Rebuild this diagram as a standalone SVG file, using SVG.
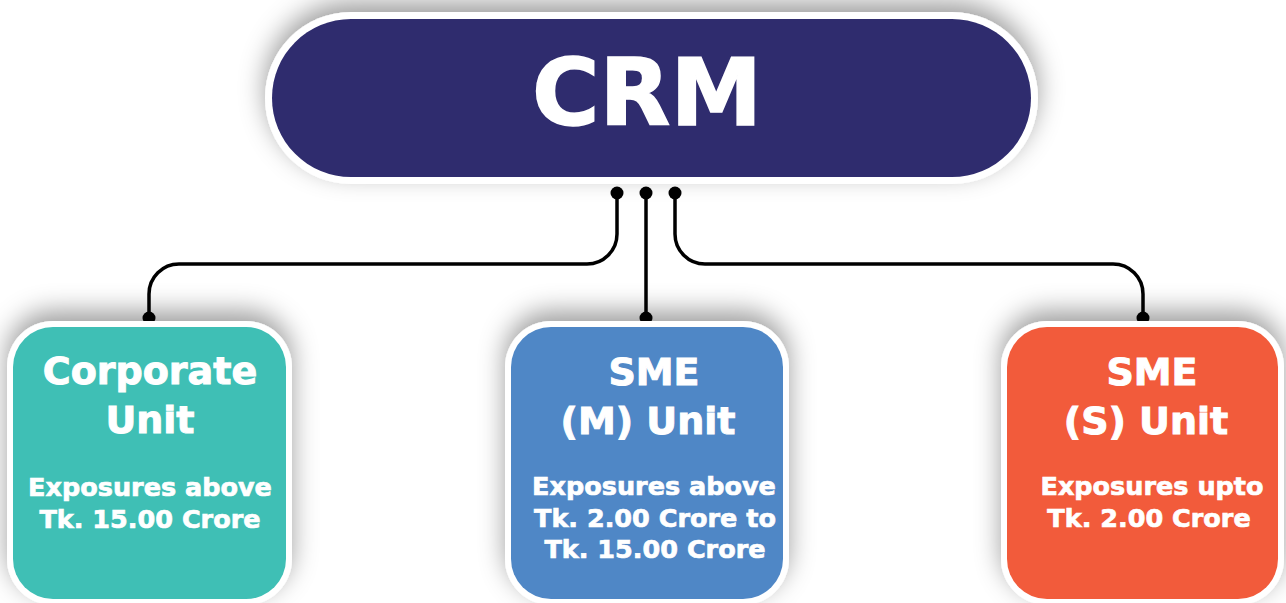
<svg xmlns="http://www.w3.org/2000/svg" width="1286" height="603" viewBox="0 0 1286 603">
  <defs>
    <!-- soft grey halo, lifted slightly upward -->
    <filter id="halo" x="-15%" y="-40%" width="130%" height="180%">
      <feGaussianBlur in="SourceAlpha" stdDeviation="13" result="b"/>
      <feOffset in="b" dx="0" dy="-10" result="o"/>
      <feFlood flood-color="#000" flood-opacity="0.38"/>
      <feComposite in2="o" operator="in" result="s"/>
      <feMerge>
        <feMergeNode in="s"/>
        <feMergeNode in="SourceGraphic"/>
      </feMerge>
    </filter>
    <style>
      .rim { fill: #ffffff; }
      .head { font-family: "DejaVu Sans", Verdana, sans-serif; font-weight: bold; fill: #ffffff; stroke: #ffffff; text-anchor: middle; }
      .title { font-size: 38px; stroke-width: 1; }
      .sub { font-size: 25.5px; stroke-width: 0.7; }
      .wire { fill: none; stroke: #000; stroke-width: 3.5; }
      .dot { fill: #000; }
    </style>
  </defs>

  <rect width="1286" height="603" fill="#ffffff"/>

  <!-- root node -->
  <g id="crm">
    <rect class="rim" x="265" y="12" width="773" height="172" rx="86" filter="url(#halo)"/>
    <rect x="272" y="19" width="759" height="158" rx="79" fill="#2F2C6E"/>
    <text class="head" x="647" y="125" font-size="92" stroke-width="1.5">CRM</text>
  </g>

  <!-- links from the root to the three units -->
  <g id="connectors">
    <path class="wire" d="M617,193 V234 A30,30 0 0 1 587,264 H179 A30,30 0 0 0 149,294 V318"/>
    <path class="wire" d="M646,193 V318"/>
    <path class="wire" d="M675,193 V234 A30,30 0 0 0 705,264 H1113 A30,30 0 0 1 1143,294 V318"/>
    <circle class="dot" cx="617" cy="193" r="6.5"/>
    <circle class="dot" cx="646" cy="193" r="6.5"/>
    <circle class="dot" cx="675" cy="193" r="6.5"/>
    <circle class="dot" cx="149" cy="318" r="6.5"/>
    <circle class="dot" cx="646" cy="318" r="6.5"/>
    <circle class="dot" cx="1143" cy="318" r="6.5"/>
  </g>

  <g id="corporate-unit">
    <rect class="rim" x="7" y="321" width="285" height="284" rx="46" filter="url(#halo)"/>
    <rect x="13" y="327" width="273" height="272" rx="40" fill="#3FBFB5"/>
    <text class="head title" x="150" y="384">Corporate</text>
    <text class="head title" x="150" y="433">Unit</text>
    <text class="head sub" x="150" y="496">Exposures above</text>
    <text class="head sub" x="150" y="528">Tk. 15.00 Crore</text>
  </g>

  <g id="sme-m-unit">
    <rect class="rim" x="505" y="321" width="284" height="284" rx="46" filter="url(#halo)"/>
    <rect x="511" y="327" width="272" height="272" rx="40" fill="#4F87C6"/>
    <text class="head title" x="654" y="385">SME</text>
    <text class="head title" x="648" y="434">(M) Unit</text>
    <text class="head sub" x="654" y="495">Exposures above</text>
    <text class="head sub" x="655" y="527">Tk. 2.00 Crore to</text>
    <text class="head sub" x="655" y="558">Tk. 15.00 Crore</text>
  </g>

  <g id="sme-s-unit">
    <rect class="rim" x="1001" y="321" width="283" height="284" rx="46" filter="url(#halo)"/>
    <rect x="1007" y="327" width="271" height="272" rx="40" fill="#F25B3B"/>
    <text class="head title" x="1152" y="385">SME</text>
    <text class="head title" x="1146" y="434">(S) Unit</text>
    <text class="head sub" x="1152" y="495">Exposures upto</text>
    <text class="head sub" x="1149" y="527">Tk. 2.00 Crore</text>
  </g>
</svg>
